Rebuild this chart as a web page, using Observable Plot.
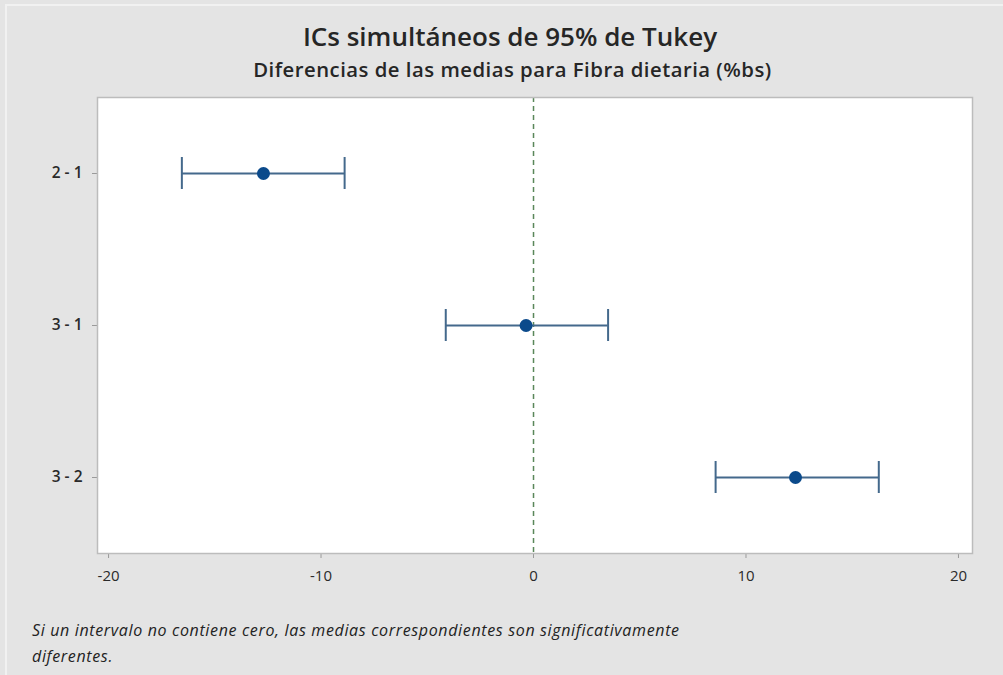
<!DOCTYPE html>
<html>
<head>
<meta charset="utf-8">
<script src="https://cdn.jsdelivr.net/npm/d3@7"></script>
<script src="https://cdn.jsdelivr.net/npm/@observablehq/plot@0.6"></script>
<style>
  html, body { margin: 0; padding: 0; }
  body { width: 1003px; height: 675px; background: #e4e4e4; position: relative; overflow: hidden; font-family: "Open Sans", "Noto Sans", sans-serif; }
  #edge { position: absolute; left: 5px; top: 4px; width: 1010px; height: 700px; border-left: 2px solid #f1f1f1; border-top: 2px solid #f1f1f1; }
  #title { position: absolute; left: 0; width: 1020px; top: 19px; text-align: center; font-size: 26px; font-weight: 600; color: #262626; line-height: 34px; }
  #subtitle { position: absolute; left: 0; width: 1025px; top: 55px; text-align: center; font-size: 20.3px; font-weight: 600; letter-spacing: 0.5px; color: #262626; line-height: 28px; }
  #chart { position: absolute; left: 0; top: 80px; }
  #caption { position: absolute; left: 32px; top: 617px; font-size: 16px; font-style: italic; letter-spacing: 0.65px; color: #222; line-height: 26px; width: 900px; }
  g[aria-label="x-axis tick"] path, g[aria-label="y-axis tick"] path { stroke: #9a9a9a; }
  g[aria-label="y-axis tick label"] text { font-weight: 600; font-size: 15.5px; }
  g[aria-label="x-axis tick label"] text { font-size: 15px; }
</style>
</head>
<body>
<div id="edge"></div>
<div id="title">ICs simultáneos de 95% de Tukey</div>
<div id="subtitle">Diferencias de las medias para Fibra dietaria (%bs)</div>
<div id="chart"></div>
<div id="caption">Si un intervalo no contiene cero, las medias correspondientes son significativamente<br>diferentes.</div>
<script>
const comparisons = ["2 - 1", "3 - 1", "3 - 2"];
const lower = [-16.55, -4.13, 8.57];
const center = [-12.71, -0.35, 12.33];
const upper = [-8.89, 3.51, 16.25];
const xTicks = [-20, -10, 0, 10, 20];
const reference = [0];

const data = comparisons.map((c, i) => ({cmp: c, lo: lower[i], mid: center[i], hi: upper[i]}));

const intervalColor = "#44698c";
const dotColor = "#0b4a8b";

const chart = Plot.plot({
  width: 1003,
  height: 520,
  marginTop: 17,
  marginBottom: 47,
  marginLeft: 97,
  marginRight: 31,
  style: {background: "transparent", fontFamily: "Open Sans, Noto Sans, sans-serif", fontSize: "14.5px", color: "#2a2a2a"},
  x: {domain: [-20.52, 20.66], ticks: xTicks, tickFormat: d => String(d), tickSize: 5, tickPadding: 12, label: null},
  y: {type: "band", domain: comparisons, paddingInner: 0.79, paddingOuter: 0.395, align: 0.5, tickSize: 5, tickPadding: 10, label: null},
  marks: [
    Plot.frame({fill: "white", stroke: "none"}),
    Plot.ruleX(reference, {stroke: "#5a875a", strokeWidth: 1.5, strokeDasharray: "5,4"}),
    Plot.ruleY(data, {y: "cmp", x1: "lo", x2: "hi", stroke: intervalColor, strokeWidth: 2}),
    Plot.tickX(data, {x: "lo", y: "cmp", stroke: intervalColor, strokeWidth: 2}),
    Plot.tickX(data, {x: "hi", y: "cmp", stroke: intervalColor, strokeWidth: 2}),
    Plot.dot(data, {x: "mid", y: "cmp", r: 6.5, fill: dotColor, stroke: "none"}),
    Plot.frame({stroke: "#bcbcbc", strokeWidth: 1.5})
  ]
});
document.getElementById("chart").appendChild(chart);
</script>
</body>
</html>
